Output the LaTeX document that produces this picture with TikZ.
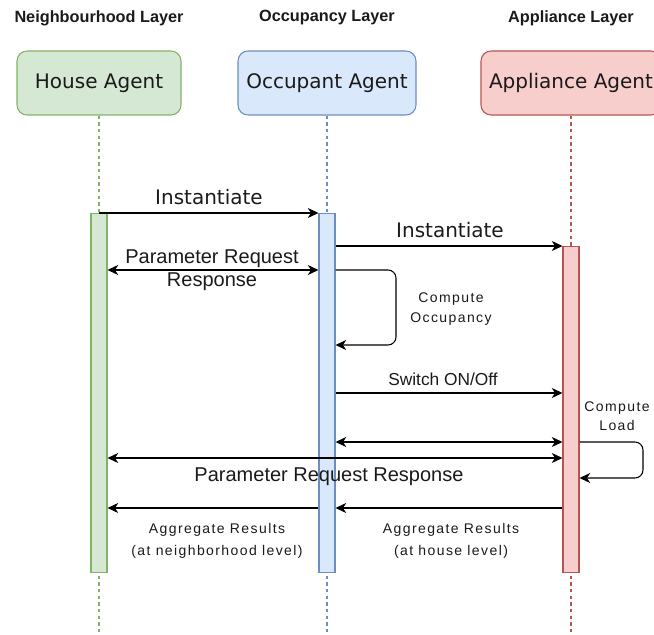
\documentclass[tikz,border=0pt]{standalone}
\usepackage{fontspec}
\setmainfont{Liberation Sans}
\newfontfamily\dvfont{DejaVu Sans}
\newfontfamily\smfont[LetterSpace=10]{Liberation Sans}
\usetikzlibrary{arrows.meta}
\definecolor{gfill}{HTML}{D5E8D4}
\definecolor{gline}{HTML}{82B366}
\definecolor{bfill}{HTML}{DAE8FC}
\definecolor{bline}{HTML}{6C8EBF}
\definecolor{rfill}{HTML}{F8CECC}
\definecolor{rline}{HTML}{B85450}
\definecolor{txt}{HTML}{1A1A1A}
\begin{document}
\begin{tikzpicture}[x=0.75pt,y=-0.75pt,
  header/.style={font=\bfseries\fontsize{12.2}{14}\selectfont, text=txt},
  agent/.style={rounded corners=7.5pt, line width=0.8pt, minimum height=48pt, inner sep=0pt, font=\dvfont\fontsize{15}{17}\selectfont, text=txt},
  life/.style={line width=0.9pt, dash pattern=on 2.5pt off 2.5pt},
  bar/.style={line width=0.8pt, minimum width=12pt, inner sep=0pt, anchor=north},
  msg/.style={line width=0.8pt, -{Stealth[length=8pt,width=7.5pt,inset=2.4pt]}},
  dmsg/.style={line width=0.8pt, {Stealth[length=8pt,width=7.5pt,inset=2.4pt]}-{Stealth[length=8pt,width=7.5pt,inset=2.4pt]}},
  biglbl/.style={font=\fontsize{15}{17.25}\selectfont, text=txt, align=center, inner sep=0pt},
  inslbl/.style={font=\dvfont\fontsize{15}{18}\selectfont, text=txt, inner sep=0pt},
  smlbl/.style={font=\smfont\fontsize{10.5}{14.5}\selectfont, text=txt, align=center, inner sep=0pt},
  aglbl/.style={font=\smfont\fontsize{10.5}{16}\selectfont, text=txt, align=center, inner sep=0pt}
]
\useasboundingbox (0,0) rectangle (654,635);

% headers
\node[header] (h1) at (99,18) {Neighbourhood Layer};
\node[header] (h2) at (327,18) {Occupancy Layer};
\node[header] (h3) at (571,18) {Appliance Layer};

% agent boxes
\node[agent, fill=gfill, draw=gline, minimum width=123pt] (house) at (99,83) {House Agent};
\node[agent, fill=bfill, draw=bline, minimum width=133.5pt] (occ) at (327,83) {Occupant Agent};
\node[agent, fill=rfill, draw=rline, minimum width=135pt] (app) at (571,83) {Appliance Agent};

% lifeline ends
\coordinate (hend) at (99,635);
\coordinate (oend) at (327,635);
\coordinate (aend) at (571,635);
\draw[life, gline] (house.south) -- (hend);
\draw[life, bline] (occ.south) -- (oend);
\draw[life, rline] (app.south) -- (aend);

% activation bars
\node[bar, fill=gfill, draw=gline, minimum height=269.25pt] (hbar) at (99,213) {};
\node[bar, fill=bfill, draw=bline, minimum height=269.25pt] (obar) at (327,213) {};
\node[bar, fill=rfill, draw=rline, minimum height=244.5pt] (abar) at (571,246) {};

% Instantiate (house -> occupant)
\draw[msg] (hbar.north) -- (obar.north west);
\node[inslbl] (l1) at (209,197) {Instantiate};

% Instantiate (occupant -> appliance)
\draw[msg] (obar.east |- abar.north) -- (abar.north west);
\node[inslbl] (l2) at (450,230) {Instantiate};

% Parameter request response (house <-> occupant)
\draw[dmsg] (hbar.east |- 0,270) -- (obar.west |- 0,270);
\node[biglbl] (l3) at (212,270) {Parameter Request\\Response};

% Compute occupancy self loop
\coordinate (co1) at (396,270);
\coordinate (co2) at (396,345);
\draw[msg, rounded corners=6pt] (obar.east |- 0,270) -- (co1) -- (co2) -- (obar.east |- 0,345);
\node[smlbl] (l4) at (451,309) {Compute\\Occupancy};

% Switch ON/Off
\draw[msg] (obar.east |- 0,393) -- (abar.west |- 0,393);
\node[biglbl, font=\fontsize{13}{15}\selectfont] (l5) at (443,379) {Switch ON/Off};

% occupant <-> appliance
\draw[dmsg] (obar.east |- 0,442) -- (abar.west |- 0,442);

% house <-> appliance
\draw[dmsg] (hbar.east |- 0,458) -- (abar.west |- 0,458);
\node[biglbl] (l6) at (329,477) {Parameter Request Response};

% Compute load self loop
\coordinate (cl1) at (643,442);
\coordinate (cl2) at (643,478);
\draw[msg, rounded corners=6pt] (abar.east |- 0,442) -- (cl1) -- (cl2) -- (abar.east |- 0,478);
\node[smlbl] (l7) at (617,416) {Compute\\Load};

% Aggregate results
\draw[msg] (abar.west |- 0,508) -- (obar.east |- 0,508);
\draw[msg] (obar.west |- 0,508) -- (hbar.east |- 0,508);
\node[aglbl] (l8) at (451,541) {Aggregate Results\\(at house level)};
\node[aglbl] (l9) at (217,541) {Aggregate Results\\(at neighborhood level)};
\end{tikzpicture}
\end{document}
